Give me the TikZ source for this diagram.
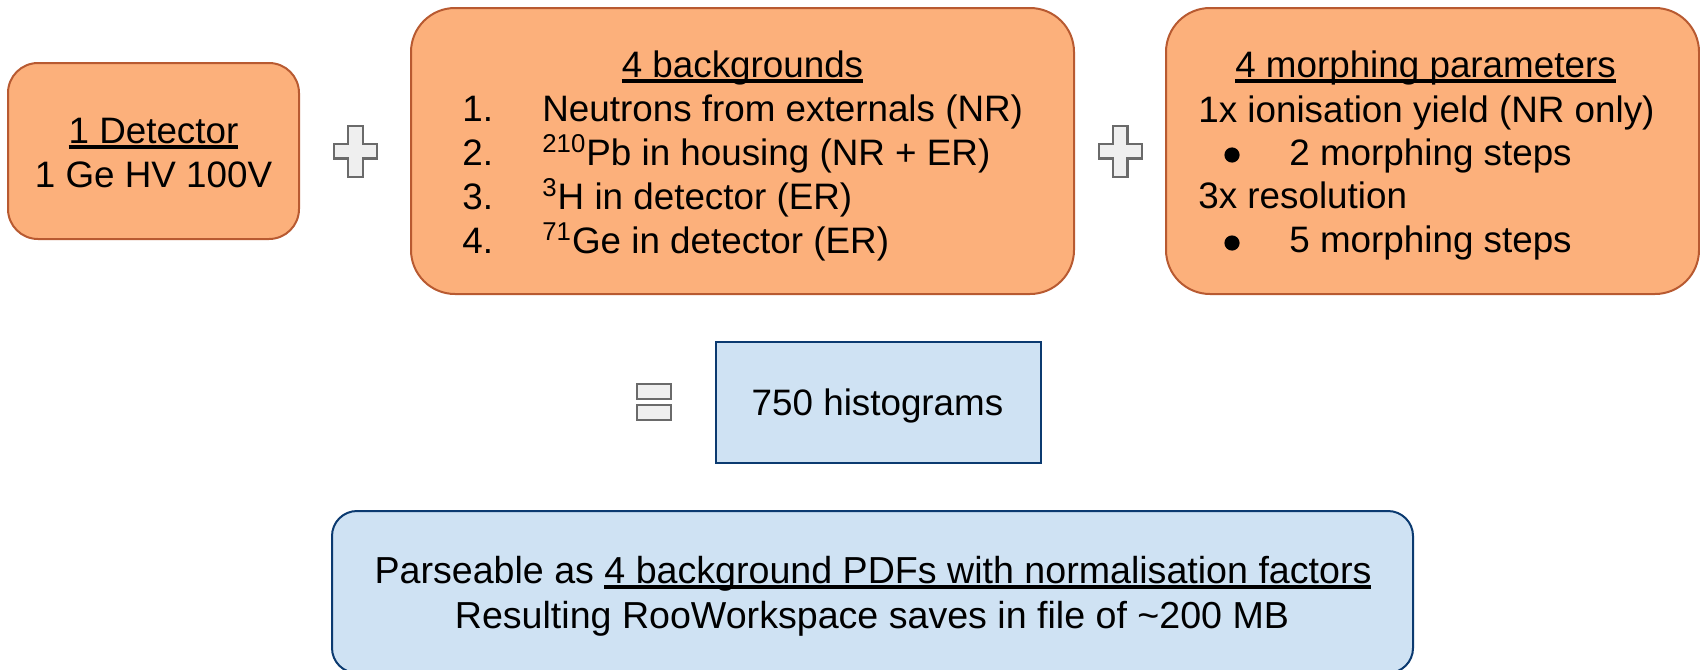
\documentclass[tikz,border=0pt]{standalone}
\usepackage{fontspec}
\setmainfont{Liberation Sans}

\definecolor{orangefill}{HTML}{FCB07B}
\definecolor{orangeedge}{HTML}{B85A31}
\definecolor{bluefill}{HTML}{CFE2F3}
\definecolor{blueedge}{HTML}{0B3A70}
\definecolor{signfill}{HTML}{EFEFEF}
\definecolor{signedge}{HTML}{6A6A6A}

% underline drawn at a fixed depth below the baseline
\newcommand\undl[1]{\setbox0\hbox{#1}\rlap{\rule[-2.8pt]{\wd0}{1.7pt}}\box0}

\tikzset{
  x=0.5pt, y=-0.5pt,
  orangebox/.style={draw=orangeedge, fill=orangefill, line width=1pt, inner sep=0pt},
  bluebox/.style={draw=blueedge, fill=bluefill, line width=1pt, inner sep=0pt},
  txt/.style={inner sep=0pt, font=\fontsize{18.4}{22}\selectfont},
  bigtxt/.style={inner sep=0pt, font=\fontsize{18.8}{22}\selectfont},
  dot/.style={circle, fill=black, inner sep=0pt, minimum size=7.6pt},
  opsign/.style={draw=signedge, fill=signfill, line width=1.1pt},
  plussign/.pic={
    \path[opsign] (-7.2,-25.5) -- (7.2,-25.5) -- (7.2,-7.2) -- (21.7,-7.2)
      -- (21.7,7.2) -- (7.2,7.2) -- (7.2,25.5) -- (-7.2,25.5) -- (-7.2,7.2)
      -- (-21.7,7.2) -- (-21.7,-7.2) -- (-7.2,-7.2) -- cycle;
  },
}

\begin{document}
\begin{tikzpicture}
\clip (0,0) rectangle (1700,669);

% detector box
\node[orangebox, rounded corners=15pt, minimum width=145.5pt, minimum height=88pt]
  (det) at (153.5,151) {};
\node[txt, anchor=base] (detT) at (153.5,143) {\undl{1 Detector}};
\node[txt, anchor=base] (detL) at (153.5,187) {1 Ge HV 100V};

\pic (plusA) at (355.5,151.2) {plussign};

% backgrounds box
\node[orangebox, rounded corners=22pt, minimum width=331.5pt, minimum height=143pt]
  (bkg) at (742.5,151) {};
\node[txt, anchor=base] (bkgT) at (742.5,77) {\undl{4 backgrounds}};
\node[txt, anchor=base west] (bkgN1) at (462,121) {1.};
\node[txt, anchor=base west] (bkgN2) at (462,165) {2.};
\node[txt, anchor=base west] (bkgN3) at (462,209) {3.};
\node[txt, anchor=base west] (bkgN4) at (462,253) {4.};
\node[txt, anchor=base west] (bkgI1) at (542,121) {Neutrons from externals (NR)};
\node[txt, anchor=base west] (bkgI2) at (542,165) {\textsuperscript{210}Pb in housing (NR + ER)};
\node[txt, anchor=base west] (bkgI3) at (542,209) {\textsuperscript{3}H in detector (ER)};
\node[txt, anchor=base west] (bkgI4) at (542,253) {\textsuperscript{71}Ge in detector (ER)};

\pic (plusB) at (1120.3,151.2) {plussign};

% morphing parameters box
\node[orangebox, rounded corners=22pt, minimum width=266.5pt, minimum height=143pt]
  (mor) at (1432.5,151) {};
\node[txt, anchor=base] (morT) at (1425.5,77) {\undl{4 morphing parameters}};
\node[txt, anchor=base west] (morA) at (1198,122) {1x ionisation yield (NR only)};
\node[dot] (morD1) at (1232,155) {};
\node[txt, anchor=base west] (morA1) at (1289,165) {2 morphing steps};
\node[txt, anchor=base west] (morB) at (1198,208) {3x resolution};
\node[dot] (morD2) at (1232,243) {};
\node[txt, anchor=base west] (morB1) at (1289,252) {5 morphing steps};

% equals sign
\path[opsign] (636.7,384.3) rectangle (671,399.3);
\path[opsign] (636.7,404.7) rectangle (671,419.7);

% result
\node[bluebox, minimum width=162.5pt, minimum height=60.5pt] (hist) at (878.5,402.5) {};
\node[txt, anchor=base] (histT) at (877.5,415) {750 histograms};

% workspace box
\node[bluebox, rounded corners=12.5pt, minimum width=540.5pt, minimum height=81pt]
  (ws) at (872.5,592) {};
\node[bigtxt, anchor=base] (wsA) at (873,583) {Parseable as \undl{4 background PDFs with normalisation factors}};
\node[bigtxt, anchor=base] (wsB) at (872,628) {Resulting RooWorkspace saves in file of \textasciitilde200 MB};
\end{tikzpicture}
\end{document}
